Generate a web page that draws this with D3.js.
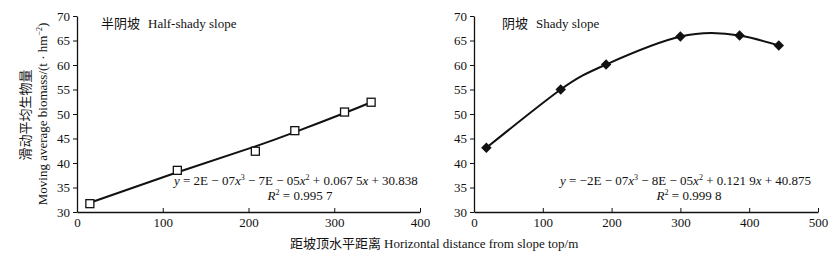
<!DOCTYPE html>
<html>
<head>
<meta charset="utf-8" />
<title>Moving average biomass</title>
<style>
    body { margin: 0; background: #fff; }
    text { font-family: "Liberation Serif", "Times New Roman", Times, serif; fill: #111; }
    .cjk { font-family: "Noto Sans CJK SC", sans-serif; }
    .domain { stroke: #111; stroke-width: 1.3; }
    .tick line { stroke: #111; }
</style>
<script src="https://cdn.jsdelivr.net/npm/d3@7"></script>
</head>
<body>
<div id="chart"></div>
<script>
    // half-shady slope (open squares)
    var halfX = [15, 117, 208, 254, 312, 343];
    var halfY = [31.7, 38.5, 42.4, 46.6, 50.4, 52.4];
    // trend line
    var halfTrendX = [15, 117, 208, 254, 312, 343];
    var halfTrendY = [31.9, 38.1, 43.4, 46.3, 50.2, 52.4];

    // shady slope (filled diamonds)
    var shadyX = [18, 126, 192, 300, 386, 443];
    var shadyY = [43.1, 55.0, 60.1, 65.8, 66.0, 64.0];

    var yTicks = [30, 35, 40, 45, 50, 55, 60, 65, 70];
    var halfXTicks = [0, 100, 200, 300, 400];
    var shadyXTicks = [0, 100, 200, 300, 400, 500];

    var width = 840, height = 260;

    var svg = d3.select('#chart').append('svg')
        .attr('width', width)
        .attr('height', height);

    var y = d3.scaleLinear().domain([30, 70]).range([212, 16]);

    function panel(opts) {
        var x = d3.scaleLinear().domain(opts.domain).range(opts.range);
        var g = svg.append('g');

        g.append('g')
            .attr('transform', 'translate(0,' + y(30) + ')')
            .call(d3.axisBottom(x).tickValues(opts.xticks).tickSizeInner(-4).tickSizeOuter(0).tickPadding(6))
            .call(s => s.selectAll('text').attr('font-size', 13));

        g.append('g')
            .attr('transform', 'translate(' + x(0) + ',0)')
            .call(d3.axisLeft(y).tickValues(yTicks).tickSizeInner(4).tickSizeOuter(0).tickPadding(3))
            .call(s => s.selectAll('text').attr('font-size', 13));

        var line = d3.line()
            .x(d => x(d[0]))
            .y(d => y(d[1]))
            .curve(d3.curveNatural);

        g.append('path')
            .datum(d3.zip(opts.trendX, opts.trendY))
            .attr('d', line)
            .attr('fill', 'none')
            .attr('stroke', '#111')
            .attr('stroke-width', 2);

        var pts = d3.zip(opts.px, opts.py);
        if (opts.marker === 'square') {
            g.selectAll('.pt').data(pts).enter().append('rect')
                .attr('x', d => x(d[0]) - 4)
                .attr('y', d => y(d[1]) - 4)
                .attr('width', 8).attr('height', 8)
                .attr('fill', '#fff')
                .attr('stroke', '#111')
                .attr('stroke-width', 1.3);
        } else {
            g.selectAll('.pt').data(pts).enter().append('path')
                .attr('d', d3.symbol(d3.symbolDiamond2, 70))
                .attr('transform', d => 'translate(' + x(d[0]) + ',' + y(d[1]) + ')')
                .attr('fill', '#111');
        }

        // panel title
        var t = g.append('text')
            .attr('x', opts.titleX)
            .attr('y', 28)
            .attr('font-size', 13);
        t.append('tspan').attr('class', 'cjk').text(opts.titleCn);
        t.append('tspan').attr('dx', 8).text(opts.titleEn);

        // trend equation
        var eq = g.append('text')
            .attr('x', opts.eqX)
            .attr('y', 185)
            .attr('font-size', 13);
        opts.eq.forEach(function(p) {
            var ts = eq.append('tspan').text(p.t);
            if (p.i) ts.attr('font-style', 'italic');
            if (p.sup) ts.attr('font-size', 8).attr('dy', -5);
            if (p.after) ts.attr('dy', 5);
        });

        var r2 = g.append('text')
            .attr('x', opts.r2X)
            .attr('y', 200)
            .attr('font-size', 13)
            .attr('text-anchor', 'middle');
        r2.append('tspan').attr('font-style', 'italic').text('R');
        r2.append('tspan').attr('font-size', 8).attr('dy', -5).text('2');
        r2.append('tspan').attr('dy', 5).text(' = ' + opts.r2);
    }

    panel({
        domain: [0, 400], range: [77, 420], xticks: halfXTicks,
        px: halfX, py: halfY, trendX: halfTrendX, trendY: halfTrendY,
        marker: 'square',
        titleX: 101, titleCn: '半阴坡', titleEn: 'Half-shady slope',
        eqX: 174, r2X: 300, r2: '0.995 7',
        eq: [
            {t: 'y', i: true}, {t: ' = 2E − 07'}, {t: 'x', i: true}, {t: '3', sup: true},
            {t: ' − 7E − 05', after: true}, {t: 'x', i: true}, {t: '2', sup: true},
            {t: ' + 0.067 5', after: true}, {t: 'x', i: true}, {t: ' + 30.838'}
        ]
    });

    panel({
        domain: [0, 500], range: [474, 818], xticks: shadyXTicks,
        px: shadyX, py: shadyY, trendX: shadyX, trendY: shadyY,
        marker: 'diamond',
        titleX: 502, titleCn: '阴坡', titleEn: 'Shady slope',
        eqX: 560, r2X: 689, r2: '0.999 8',
        eq: [
            {t: 'y', i: true}, {t: ' = −2E − 07'}, {t: 'x', i: true}, {t: '3', sup: true},
            {t: ' − 8E − 05', after: true}, {t: 'x', i: true}, {t: '2', sup: true},
            {t: ' + 0.121 9', after: true}, {t: 'x', i: true}, {t: ' + 40.875'}
        ]
    });

    // y axis title (two rotated lines)
    svg.append('text')
        .attr('class', 'cjk')
        .attr('transform', 'translate(30,115) rotate(-90)')
        .attr('text-anchor', 'middle')
        .attr('font-size', 13)
        .text('滑动平均生物量');
    var yl = svg.append('text')
        .attr('transform', 'translate(47,114) rotate(-90)')
        .attr('text-anchor', 'middle')
        .attr('font-size', 13);
    yl.append('tspan').text('Moving average biomass/(t · hm');
    yl.append('tspan').attr('font-size', 8).attr('dy', -5).text('−2');
    yl.append('tspan').attr('dy', 5).text(')');

    // x axis title
    var xl = svg.append('text')
        .attr('x', 290)
        .attr('y', 248)
        .attr('font-size', 13);
    xl.append('tspan').attr('class', 'cjk').text('距坡顶水平距离');
    xl.append('tspan').attr('dx', 3).text('Horizontal distance from slope top/m');
</script>
</body>
</html>
